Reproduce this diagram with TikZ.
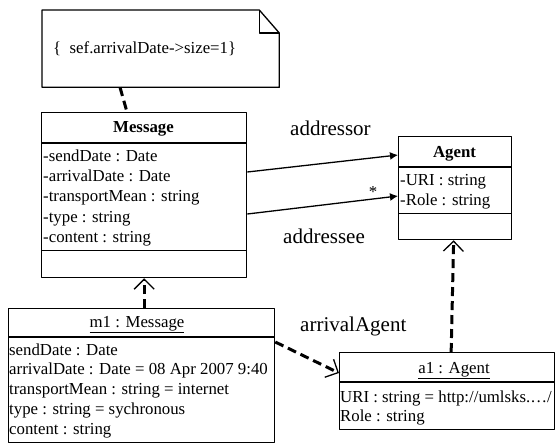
\documentclass[tikz,border=0pt]{standalone}
\usepackage{fontspec}
\setmainfont{Liberation Serif}
\usetikzlibrary{arrows.meta}
\tikzset{
  umlbox/.style={draw,line width=1.3pt,inner sep=0pt,anchor=north west},
  attr/.style={anchor=base west,inner sep=0pt,font=\fontsize{16.8}{20}\selectfont},
  ttl/.style={anchor=base,inner sep=0pt,font=\fontsize{16.8}{20}\selectfont},
  lbl/.style={anchor=base west,inner sep=0pt,font=\fontsize{21}{24}\selectfont},
  assoc/.style={line width=1.3pt,-{Latex[length=8pt,width=8pt]}},
  dep/.style={line width=3pt,dash pattern=on 9pt off 5pt,-{Straight Barb[length=10pt,width=20pt,line width=1.3pt]}}
}
\begin{document}
\begin{tikzpicture}[x=1pt,y=-1pt,line join=round]
\useasboundingbox[fill=white] (0,0) rectangle (556,445);
% note
\node[umlbox,draw=none,minimum width=236pt,minimum height=76pt] (note) at (42,10) {};
\draw[line width=1.3pt] (note.north west) -- ([xshift=-20pt]note.north east) -- ([yshift=-23pt]note.north east) -- (note.south east) -- (note.south west) -- cycle;
\draw[line width=1.3pt] ([xshift=-20pt]note.north east) |- ([yshift=-23pt]note.north east);
\node[attr] (notetxt) at (53,53) {\{~ sef.arrivalDate->size=1\}};
% classes
\node[umlbox,minimum width=205pt,minimum height=165pt] (msg) at (41,112) {};
\draw[line width=1.3pt] ([yshift=-31pt]msg.north west) -- ([yshift=-31pt]msg.north east);
\draw[line width=1.3pt] ([yshift=28pt]msg.south west) -- ([yshift=28pt]msg.south east);
\node[ttl,font=\fontsize{16.8}{20}\selectfont\bfseries] (msgttl) at (143.5,132) {Message};
\foreach \t [count=\i from 0] in {-sendDate : Date,-arrivalDate : Date,-transportMean : string,-type : string,-content : string}
  \node[attr] (msga\i) at (43,161+20.4*\i) {\t};
\node[umlbox,minimum width=113pt,minimum height=103pt] (agent) at (398,136) {};
\draw[line width=1.3pt] ([yshift=-31pt]agent.north west) -- ([yshift=-31pt]agent.north east);
\draw[line width=1.3pt] ([yshift=27pt]agent.south west) -- ([yshift=27pt]agent.south east);
\node[ttl,font=\fontsize{16.8}{20}\selectfont\bfseries] (agentttl) at (454.5,157) {Agent};
\foreach \t [count=\i from 0] in {-URI : string,-Role : string}
  \node[attr] (agenta\i) at (400,185+20*\i) {\t};
% objects
\node[umlbox,minimum width=266pt,minimum height=134pt] (m1) at (8,308) {};
\draw[line width=1.3pt] ([yshift=-29pt]m1.north west) -- ([yshift=-29pt]m1.north east);
\node[ttl] (m1ttl) at (137,327) {\underline{m1 : Message}};
\foreach \t [count=\i from 0] in {sendDate : Date,arrivalDate : Date = 08 Apr 2007 9:40,transportMean : string = internet,type : string = sychronous,content : string}
  \node[attr] (m1a\i) at (9,355+19.9*\i) {\t};
\node[umlbox,minimum width=215pt,minimum height=77pt] (a1) at (339,352) {};
\draw[line width=1.3pt] ([yshift=-30pt]a1.north west) -- ([yshift=-30pt]a1.north east);
\node[ttl] (a1ttl) at (454,373) {\underline{a1 : Agent}};
\foreach \t [count=\i from 0] in {URI : string = http://umlsks.…/,Role : string}
  \node[attr] (a1a\i) at (340,402+19.8*\i) {\t};
% links
\draw[dep,-] ([xshift=78pt]note.south west) -- ([xshift=86pt]msg.north west);
\draw[assoc] ([yshift=-60pt]msg.north east) -- ([yshift=-19pt]agent.north west);
\draw[assoc] ([yshift=-102pt]msg.north east) -- ([yshift=-60pt]agent.north west);
\draw[dep] (m1.north -| msg.south) -- (msg.south);
\draw[dep] ([yshift=-34pt]m1.north east) -- ([yshift=-21pt]a1.north west);
\draw[dep] ([xshift=4pt]a1.north) -- ([xshift=-1.5pt]agent.south);
\node[lbl] (addressor) at (290,135) {addressor};
\node[ttl] (mult) at (373,197) {*};
\node[lbl] (addressee) at (283,243) {addressee};
\node[lbl] (arrival) at (300,331) {arrivalAgent};
\end{tikzpicture}
\end{document}
